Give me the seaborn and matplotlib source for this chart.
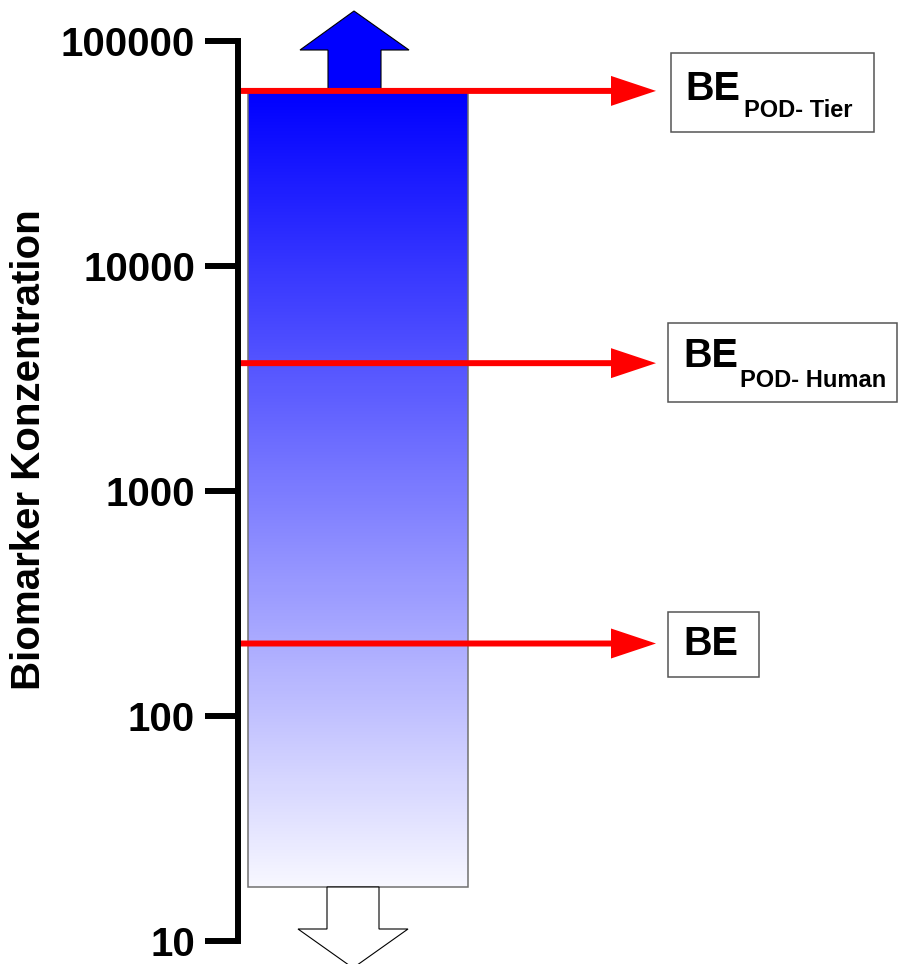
import numpy as np
import pandas as pd
import matplotlib
matplotlib.use("Agg")
import matplotlib.pyplot as plt
import matplotlib.transforms as mtransforms
from matplotlib.colors import LinearSegmentedColormap
from matplotlib.patches import Polygon, Rectangle
from matplotlib.ticker import FixedLocator, NullLocator
import seaborn as sns

# Daten
tick_values = [10, 100, 1000, 10000, 100000]
tick_labels = ["10", "100", "1000", "10000", "100000"]
bar_category = ["Biomarker"]
bar_top = [60000]
bar_bottom = [17.4]
marker_values = [60000, 3700, 210]
marker_main = ["BE", "BE", "BE"]
marker_sub = ["POD- Tier", "POD- Human", ""]
y_label = "Biomarker Konzentration"

W, H = 899, 964
sns.set_theme(style="white")
plt.rcParams["font.family"] = ["Liberation Sans", "DejaVu Sans"]
plt.rcParams["text.color"] = "black"
plt.rcParams["axes.labelcolor"] = "black"
plt.rcParams["ytick.color"] = "black"
plt.rcParams["ytick.labelcolor"] = "black"

fig = plt.figure(figsize=(W / 100, H / 100), dpi=100)
ax = fig.add_axes([238 / W, (H - 941) / H, (W - 238) / W, 900 / H])

# Balken (seaborn), danach Unterkante anpassen
df = pd.DataFrame({"kat": bar_category, "wert": bar_top})
sns.barplot(data=df, x="kat", y="wert", ax=ax, color="blue", width=0.8,
            edgecolor="#707070", linewidth=1.1)
bar = ax.patches[0]
bar.set_y(bar_bottom[0])
bar.set_height(bar_top[0] - bar_bottom[0])
bar.set_facecolor("none")
bar.set_zorder(2)

ax.set_yscale("log")
xlim = ((238 - 358) / 275, (W - 358) / 275)
ax.set_xlim(*xlim)
ax.set_ylim(tick_values[0], tick_values[-1])

# Farbverlauf im Balken
to_ax = ax.transData + ax.transAxes.inverted()
(x0a, y0a), (x1a, y1a) = to_ax.transform(
    [(bar.get_x(), bar_bottom[0]), (bar.get_x() + bar.get_width(), bar_top[0])])
grad = np.linspace(0, 1, 256).reshape(-1, 1)
cmap = LinearSegmentedColormap.from_list("blau", ["#f7f7ff", "#0000ff"])
im = ax.imshow(grad, cmap=cmap, aspect="auto", origin="lower",
               extent=(x0a, x1a, y0a, y1a), transform=ax.transAxes, zorder=1)
im.set_clip_path(bar)
ax.set_xlim(*xlim)
ax.set_ylim(tick_values[0], tick_values[-1])

# Achse
ax.yaxis.set_major_locator(FixedLocator(tick_values))
ax.yaxis.set_minor_locator(NullLocator())
ax.set_yticklabels(tick_labels)
ax.set_xticks([])
ax.set_xlabel("")
ax.tick_params(axis="y", which="major", length=24, width=4.3, direction="out",
               labelsize=29, pad=7, color="black", labelcolor="black", left=True)
for lab in ax.get_yticklabels():
    lab.set_fontweight("bold")
sns.despine(ax=ax, left=False, bottom=True)
ax.spines["left"].set_linewidth(4.3)
ax.spines["left"].set_color("black")
ax.spines["left"].set_zorder(5)
ax.patch.set_visible(False)
ax.set_ylabel(y_label, fontsize=29, fontweight="bold", va="center", color="black")
ax.yaxis.set_label_coords((29 - 238) / (W - 238), (941 - 450) / 900)

# Pixel-Transformation (von oben links)
px = mtransforms.Affine2D().scale(1 / W, -1 / H).translate(0, 1) + fig.transFigure
bl = mtransforms.blended_transform_factory(px, ax.transData)

# Pfeil nach oben (blau) und nach unten (weiss)
up = Polygon([(328, 91), (328, 50), (300, 50), (354, 11), (409, 50), (381, 50), (381, 91)],
             closed=True, facecolor="#0000ff", edgecolor="black", lw=0.8,
             transform=px, clip_on=False, zorder=2)
down = Polygon([(327, 887), (327, 929), (298, 929), (353, 968), (408, 929), (379, 929), (379, 887)],
               closed=True, facecolor="white", edgecolor="black", lw=0.8,
               transform=px, clip_on=False, zorder=2)
ax.add_patch(up)
ax.add_patch(down)

# rote Pfeile
for v in marker_values:
    ax.annotate("", xy=(656, v), xytext=(241, v), xycoords=bl, textcoords=bl,
                arrowprops=dict(width=4.3, headwidth=21.6, headlength=32.4,
                                facecolor="red", edgecolor="red", lw=0, shrink=0),
                annotation_clip=False, zorder=4)

# Kaesten mit Beschriftung
boxes = [(671, 53, 203, 79), (668, 323, 229, 79), (668, 612, 91, 65)]
main_pos = [(685, 100), (683, 367), (683, 655)]
sub_pos = [(744, 117), (740, 387), (0, 0)]
for (bx, by, bw, bh), (mx, my), (sx, sy), m, s in zip(boxes, main_pos, sub_pos,
                                                       marker_main, marker_sub):
    ax.add_patch(Rectangle((bx, by), bw, bh, facecolor="white", edgecolor="#555555",
                           lw=1.1, transform=px, clip_on=False, zorder=3))
    ax.text(mx, my, m, transform=px, fontsize=28.5, fontweight="bold", color="black",
            ha="left", va="baseline", clip_on=False, zorder=4)
    if s:
        ax.text(sx, sy, s, transform=px, fontsize=17, fontweight="bold", color="black",
                ha="left", va="baseline", clip_on=False, zorder=4)

fig.savefig("out.png", dpi=100)
